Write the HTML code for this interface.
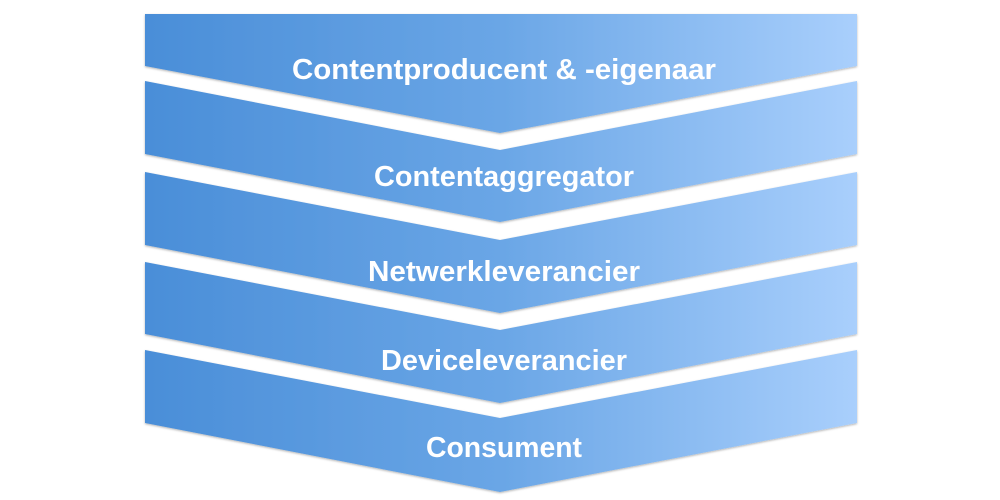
<!DOCTYPE html>
<html><head><style>
html,body{margin:0;padding:0;background:#fff;width:1000px;height:500px;overflow:hidden}
</style></head><body>
<svg width="1000" height="500" xmlns="http://www.w3.org/2000/svg">
<defs>
<linearGradient id="g" x1="0" x2="1" y1="0" y2="0">
<stop offset="0" stop-color="#4a8ed8"/>
<stop offset="0.5" stop-color="#6aa6e6"/>
<stop offset="1" stop-color="#a9cffc"/>
</linearGradient>
<filter id="s" x="-5%" y="-5%" width="110%" height="120%"><feDropShadow dx="0" dy="1" stdDeviation="1" flood-opacity="0.3"/></filter>
</defs>
<g fill="url(#g)" filter="url(#s)">
<polygon points="145,350 500,418 857,350 857,423 500,492 145,423"/>
<polygon points="145,262 500,330 857,262 857,334 500,403 145,334"/>
<polygon points="145,172 500,240 857,172 857,245 500,313 145,245"/>
<polygon points="145,81 500,150 857,81 857,154 500,222 145,154"/>
<polygon points="145,14 857,14 857,66 500,133 145,66"/>
</g>
<g fill="#fff" font-family="Liberation Sans, sans-serif" font-weight="bold" font-size="29" text-anchor="middle">
<text x="504" y="79" textLength="424" lengthAdjust="spacingAndGlyphs">Contentproducent &amp; -eigenaar</text>
<text x="504" y="186" textLength="260" lengthAdjust="spacingAndGlyphs">Contentaggregator</text>
<text x="504" y="281" textLength="272" lengthAdjust="spacingAndGlyphs">Netwerkleverancier</text>
<text x="504" y="370" textLength="246" lengthAdjust="spacingAndGlyphs">Deviceleverancier</text>
<text x="504" y="457" textLength="156" lengthAdjust="spacingAndGlyphs">Consument</text>
</g>
</svg>
</body></html>
